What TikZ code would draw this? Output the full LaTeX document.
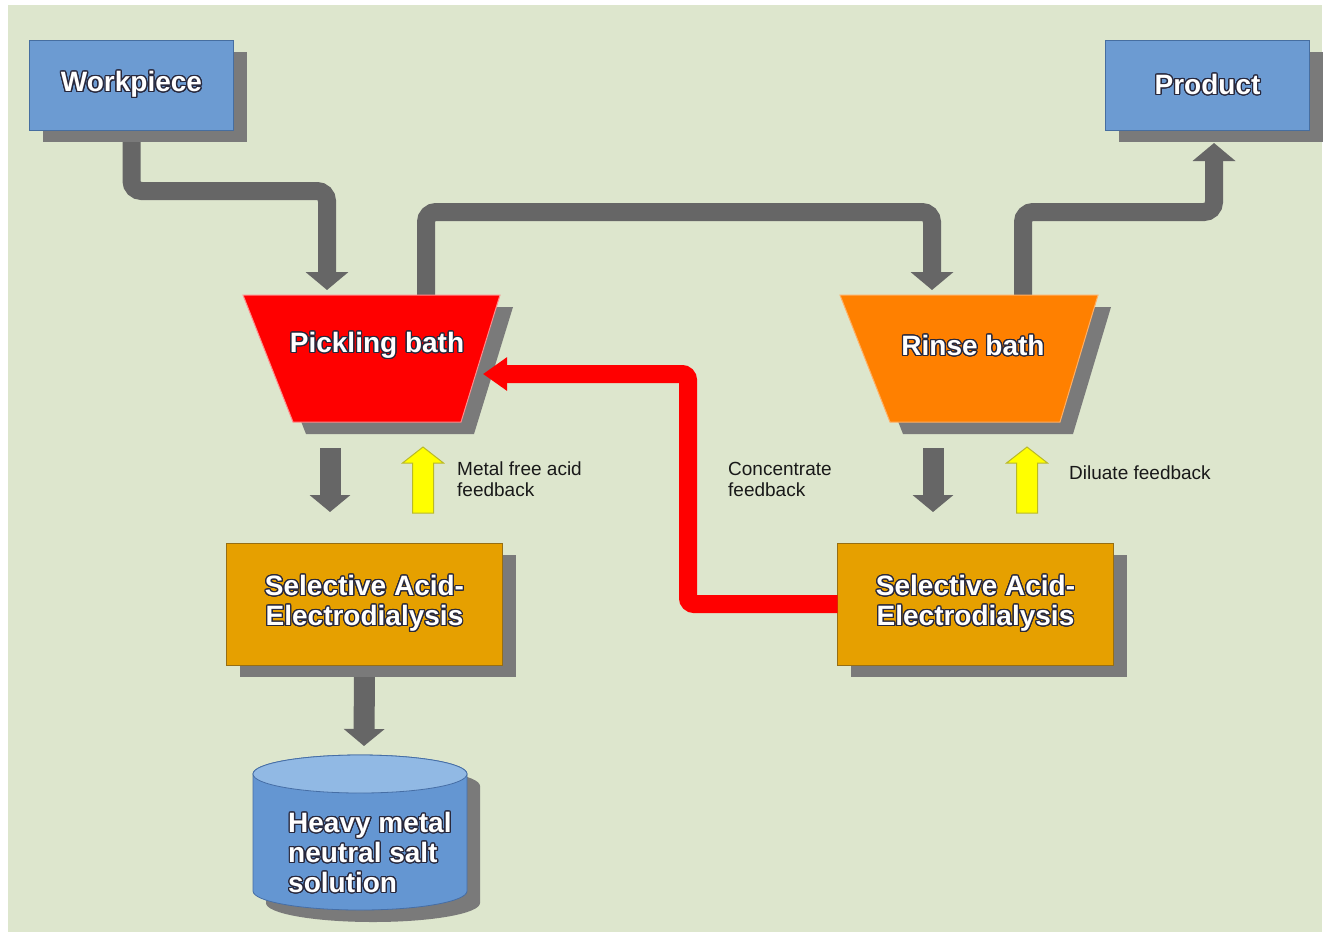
\documentclass[tikz,border=0pt]{standalone}
\usepackage{fontspec}
\setmainfont{Liberation Sans}
\usepackage[copies]{contour}
\contourlength{1.2pt}
\contournumber{20}
\usetikzlibrary{arrows.meta,shadows}
\pgfdeclarelayer{bgl}
\pgfdeclarelayer{cnl}
\pgfsetlayers{bgl,cnl,main}
\definecolor{bgc}{RGB}{221,230,205}
\definecolor{shc}{RGB}{122,122,122}
\definecolor{bluec}{RGB}{108,155,210}
\definecolor{blueb}{RGB}{70,110,160}
\definecolor{goldc}{RGB}{230,160,0}
\definecolor{goldb}{RGB}{150,110,20}
\definecolor{connc}{RGB}{102,102,102}
\definecolor{redc}{RGB}{255,0,0}
\definecolor{redb}{RGB}{255,140,140}
\definecolor{orc}{RGB}{255,128,0}
\definecolor{orb}{RGB}{255,175,100}
\definecolor{cylc}{RGB}{100,150,210}
\definecolor{cyltop}{RGB}{145,185,228}
\definecolor{cylb}{RGB}{70,110,165}
\definecolor{ylc}{RGB}{255,255,0}
\definecolor{ylb}{RGB}{185,185,40}
\definecolor{olc}{RGB}{40,40,60}
\definecolor{lblc}{RGB}{25,25,25}
\newcommand\ot[1]{\contour{olc}{#1}}
\newcommand\titlefont{\fontsize{28}{30}\selectfont\bfseries}
\newcommand\lblfont{\fontsize{19}{21}\selectfont}
\tikzset{
  shad/.style={drop shadow={shadow xshift=13pt, shadow yshift=-12pt, fill=shc, opacity=1}},
  box/.style={rectangle, draw, line width=1pt, inner sep=0pt, outer sep=0pt, shad, text=white, font=\titlefont, align=center},
  bluebox/.style={box, fill=bluec, draw=blueb, minimum width=204pt, minimum height=90pt},
  goldbox/.style={box, fill=goldc, draw=goldb, minimum width=276pt, minimum height=122pt},
  ttl/.style={inner sep=0pt, text=white, font=\titlefont},
  lbl/.style={inner sep=0pt, text=lblc, font=\lblfont, align=left, anchor=west},
  conn/.style={line width=18pt, draw=connc, rounded corners=10pt, -{Triangle[width=42pt,length=18pt]}},
  sconn/.style={line width=21pt, draw=connc, -{Triangle[width=40pt,length=17pt]}},
  redconn/.style={line width=18pt, draw=redc, rounded corners=6pt, -{Triangle[width=32pt,length=24pt]}},
  yarrow/.style={fill=ylc, draw=ylb, line width=1pt},
}
\begin{document}
\begin{tikzpicture}[x=1pt,y=-1pt]
\useasboundingbox (0,0) rectangle (1324,935);
\begin{pgfonlayer}{bgl}
\fill[white] (0,0) rectangle (1324,935);
\fill[bgc] (8,5) rectangle (1322,932);
\end{pgfonlayer}

% boxes
\node[bluebox] (work) at (131.5,85) {\ot{Workpiece}};
\node[bluebox] (prod) at (1207.5,85) {\ot{Product}};
\node[goldbox] (selL) at (364.5,604) {\ot{Selective Acid-}\\\ot{Electrodialysis}};
\node[goldbox] (selR) at (975.5,604) {\ot{Selective Acid-}\\\ot{Electrodialysis}};

% baths
\path[fill=redc, draw=redb, line width=1pt, shad] (243,295) -- (500,295) -- (461,422) -- (293,422) -- cycle;
\node[ttl] (pick) at (377,346) {\ot{Pickling bath}};
\path[fill=orc, draw=orb, line width=1pt, shad] (840,295) -- (1098,295) -- (1060,422) -- (890,422) -- cycle;
\node[ttl] (rinse) at (973,346) {\ot{Rinse bath}};

% cylinder
\path[fill=cylc, draw=cylb, line width=0.8pt, shad] (253,774) -- (253,891) arc[start angle=180, end angle=0, x radius=107, y radius=19] -- (467,774) arc[start angle=0, end angle=-180, x radius=107, y radius=19] -- cycle;
\draw[fill=cyltop, draw=cylb, line width=0.8pt] (360,774) ellipse[x radius=107, y radius=19];
\node[ttl, anchor=west, align=left] (heavy) at (288,853) {\ot{Heavy metal}\\\ot{neutral salt}\\\ot{solution}};

% coordinates
\coordinate (pickIn) at (327,290);
\coordinate (pickOut) at (426,295);
\coordinate (rinseIn) at (932,290);
\coordinate (rinseOut) at (1023,295);
\coordinate (prodIn) at (1214,143);
\coordinate (pickBot) at (330,448);
\coordinate (pickDn) at (330,512);
\coordinate (rinseBot) at (933,448);
\coordinate (rinseDn) at (933,512);
\coordinate (cylIn) at (364,746);
\coordinate (pickSide) at (483,374);
\coordinate (yl) at (423,447);
\coordinate (yr) at (1027,447);

\begin{pgfonlayer}{cnl}
\draw[conn] (work.south) -- (131.5,191) -| (pickIn);
\draw[conn] (pickOut) -- (426,212) -| (rinseIn);
\draw[conn] (rinseOut) -- (1023,212) -| (prodIn);
\draw[sconn] (selL.south) -- (cylIn);
\end{pgfonlayer}

\draw[sconn] (pickBot) -- (pickDn);
\draw[sconn] (rinseBot) -- (rinseDn);

\draw[redconn] (selR.west) -- (688,604) -- (688,374) -- (pickSide);

\draw[yarrow, shift={(yl)}] (0,0) -- (20.5,16) -- (10.5,16) -- (10.5,66) -- (-10.5,66) -- (-10.5,16) -- (-20.5,16) -- cycle;
\draw[yarrow, shift={(yr)}] (0,0) -- (20.5,16) -- (10.5,16) -- (10.5,66) -- (-10.5,66) -- (-10.5,16) -- (-20.5,16) -- cycle;

% labels
\node[lbl] (lab1) at (457,479) {Metal free acid\\feedback};
\node[lbl] (lab2) at (728,479) {Concentrate\\feedback};
\node[lbl] (lab3) at (1069,473) {Diluate feedback};
\end{tikzpicture}
\end{document}
